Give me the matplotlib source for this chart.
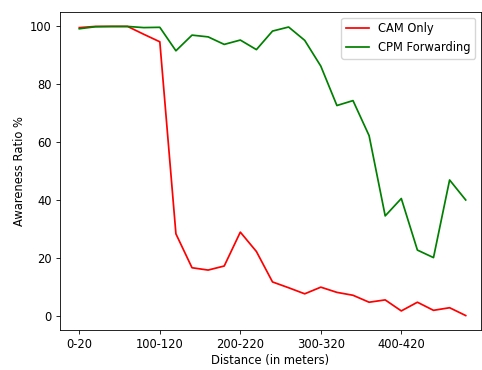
import matplotlib
matplotlib.use("Agg")
import matplotlib.pyplot as plt

# distance bins 0-20 ... 480-500
distance_labels = [f"{i * 20}-{i * 20 + 20}" for i in range(25)]

cam_only = [99.6, 100.0, 100.0, 100.0, 97.3, 94.7, 28.4, 16.7, 15.9, 17.3,
            29.0, 22.3, 11.8, 9.8, 7.7, 10.0, 8.2, 7.2, 4.8, 5.6,
            1.8, 4.8, 2.0, 2.9, 0.2]
cpm_forwarding = [99.2, 99.9, 100.0, 100.0, 99.6, 99.7, 91.6, 97.0, 96.4, 93.8,
                  95.3, 92.0, 98.4, 99.8, 95.2, 86.3, 72.7, 74.4, 62.3, 34.6,
                  40.6, 22.8, 20.2, 47.0, 40.1]

plt.rcParams["font.size"] = 8.3
plt.rcParams["axes.linewidth"] = 0.6
plt.rcParams["xtick.major.width"] = 0.6
plt.rcParams["ytick.major.width"] = 0.6
plt.rcParams["xtick.major.size"] = 2.6
plt.rcParams["ytick.major.size"] = 2.6

fig = plt.figure(figsize=(4.82, 3.70), dpi=100)
ax = fig.add_axes([0.1245, 0.1081, 0.8734, 0.8595])

x = list(range(len(distance_labels)))
ax.plot(x, cam_only, color="red", linewidth=1.25, label="CAM Only")
ax.plot(x, cpm_forwarding, color="green", linewidth=1.25, label="CPM Forwarding")

ax.set_xticks(x[::5])
ax.set_xticklabels(distance_labels[::5])
ax.set_xlim(-1.2, 24.95)
ax.set_xlabel("Distance (in meters)", labelpad=2)
ax.set_ylabel("Awareness Ratio %", labelpad=3)
ax.legend(loc="upper right")

plt.savefig("out.png", dpi=100)
plt.close()
